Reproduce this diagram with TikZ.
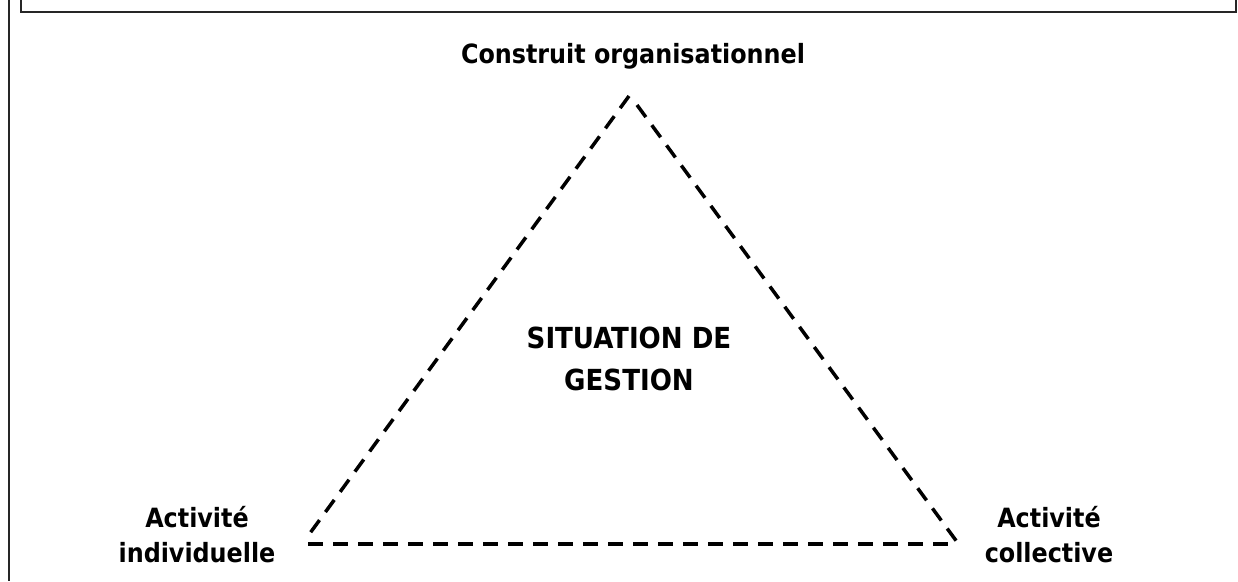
\documentclass[tikz,border=0pt]{standalone}
\usepackage{fontspec}
\setmainfont{DejaVu Sans Condensed}
\usepackage{tikz}

\begin{document}
\begin{tikzpicture}[x=1pt,y=-1pt,
  pole/.style={font=\bfseries\fontsize{26.5}{35}\selectfont,align=center,anchor=base},
  centre/.style={font=\bfseries\fontsize{29}{42}\selectfont,align=center,anchor=base},
  side/.style={dashed,line width=3.5pt,dash pattern=on 15pt off 10pt},
  frame/.style={line width=2.5pt,draw=black!85}]

  \useasboundingbox (0,0) rectangle (1238,581);

  % cadre
  \draw[frame] (9,0) -- (9,581);
  \draw[frame] (21,0) -- (21,12) -- (1236,12) -- (1236,0);

  % sommets
  \coordinate (top) at (629,96);
  \coordinate (topr) at (637,105);
  \coordinate (left) at (305,540);
  \coordinate (leftb) at (308,544);
  \coordinate (right) at (960,546);
  \coordinate (rightb) at (955,544);

  \node[pole] (org) at (633,63) {Construit organisationnel};
  \node[pole] (ind) at (197,562) {Activité\\individuelle};
  \node[pole] (col) at (1049,562) {Activité\\collective};
  \node[centre] (sit) at (629,390) {SITUATION DE\\GESTION};

  \draw[side] (top) -- (left);
  \draw[side] (topr) -- (right);
  \draw[side] (leftb) -- (rightb);

\end{tikzpicture}
\end{document}
